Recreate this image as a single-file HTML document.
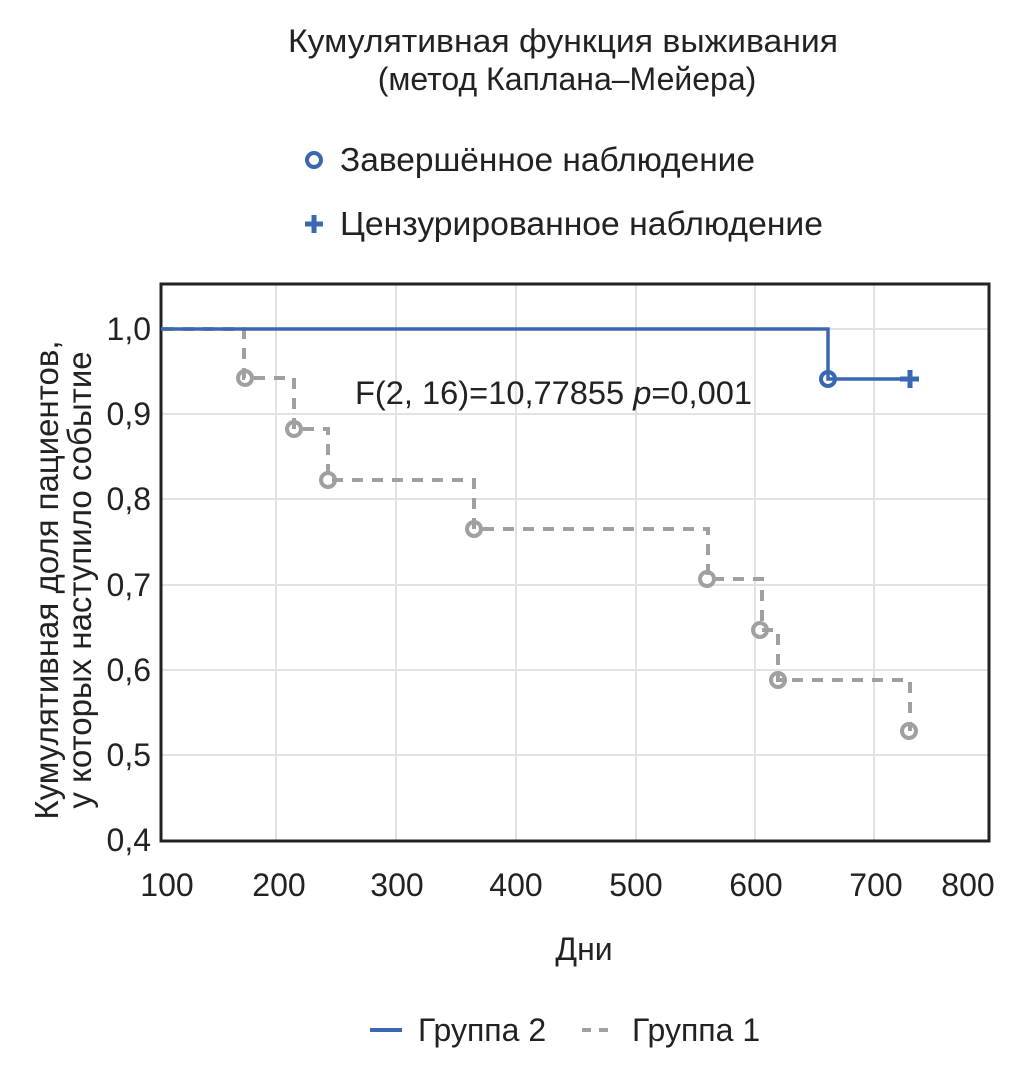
<!DOCTYPE html>
<html><head><meta charset="utf-8"><style>
body{margin:0;background:#fff}
svg text{font-family:"Liberation Sans",sans-serif;fill:#222}
</style></head><body>
<svg width="1029" height="1086" viewBox="0 0 1029 1086">
<text x="563" y="52" font-size="32" text-anchor="middle" textLength="550" lengthAdjust="spacingAndGlyphs">Кумулятивная функция выживания</text>
<text x="567" y="90" font-size="32" text-anchor="middle">(метод Каплана–Мейера)</text>
<circle cx="314" cy="160" r="7" fill="none" stroke="#3a68b0" stroke-width="4"/>
<text x="340" y="171" font-size="33" textLength="415" lengthAdjust="spacingAndGlyphs">Завершённое наблюдение</text>
<path d="M305 224h18M314 215v18" stroke="#3a68b0" stroke-width="5"/>
<text x="340" y="235" font-size="33" textLength="483" lengthAdjust="spacingAndGlyphs">Цензурированное наблюдение</text>
<g stroke="#e2e2e2" stroke-width="2">
<line x1="276" y1="284" x2="276" y2="841"/><line x1="396" y1="284" x2="396" y2="841"/>
<line x1="516" y1="284" x2="516" y2="841"/><line x1="636" y1="284" x2="636" y2="841"/>
<line x1="755" y1="284" x2="755" y2="841"/><line x1="874" y1="284" x2="874" y2="841"/>
<line x1="161" y1="329" x2="989" y2="329"/><line x1="161" y1="414" x2="989" y2="414"/>
<line x1="161" y1="499" x2="989" y2="499"/><line x1="161" y1="585" x2="989" y2="585"/>
<line x1="161" y1="670" x2="989" y2="670"/><line x1="161" y1="755" x2="989" y2="755"/>
</g>
<rect x="161" y="284" width="828" height="557" fill="none" stroke="#222" stroke-width="3"/>
<g font-size="32" text-anchor="end">
<text x="151" y="340">1,0</text><text x="151" y="425">0,9</text><text x="151" y="510">0,8</text>
<text x="151" y="596">0,7</text><text x="151" y="681">0,6</text><text x="151" y="766">0,5</text><text x="151" y="851">0,4</text>
</g>
<g font-size="32" text-anchor="middle">
<text x="167" y="896">100</text><text x="279" y="896">200</text><text x="397" y="896">300</text>
<text x="516" y="896">400</text><text x="636" y="896">500</text><text x="756" y="896">600</text>
<text x="876" y="896">700</text><text x="968" y="896">800</text>
<text x="584" y="960">Дни</text>
</g>
<g font-size="33" text-anchor="middle" transform="translate(58,580) rotate(-90)">
<text x="0" y="0">Кумулятивная доля пациентов,</text>
<text x="0" y="33">у которых наступило событие</text>
</g>
<text x="355" y="404" font-size="32" textLength="397" lengthAdjust="spacingAndGlyphs">F(2, 16)=10,77855 <tspan font-style="italic">p</tspan>=0,001</text>
<path d="M163 329H244V378H294V429H328V480H474V529H708V579H762V630H778V680H910V731" fill="none" stroke="#a0a0a0" stroke-width="4" stroke-dasharray="11,9"/>
<g fill="none" stroke="#a0a0a0" stroke-width="4">
<circle cx="245" cy="378" r="7"/><circle cx="294" cy="429" r="7"/><circle cx="328" cy="480" r="7"/>
<circle cx="474" cy="529" r="7"/><circle cx="707" cy="579" r="7"/><circle cx="760" cy="630" r="7"/>
<circle cx="778" cy="680" r="7"/><circle cx="909" cy="731" r="7"/>
</g>
<path d="M161 329H828V379H910" fill="none" stroke="#3a68b0" stroke-width="3.5"/>
<circle cx="828" cy="379" r="7" fill="none" stroke="#3a68b0" stroke-width="4"/>
<path d="M900 379h19M910 370v18" stroke="#3a68b0" stroke-width="5"/>
<line x1="370" y1="1030" x2="402" y2="1030" stroke="#3a68b0" stroke-width="4"/>
<text x="418" y="1041" font-size="32">Группа 2</text>
<line x1="582" y1="1030" x2="616" y2="1030" stroke="#a0a0a0" stroke-width="4" stroke-dasharray="9,8"/>
<text x="632" y="1041" font-size="32">Группа 1</text>
</svg>
</body></html>
